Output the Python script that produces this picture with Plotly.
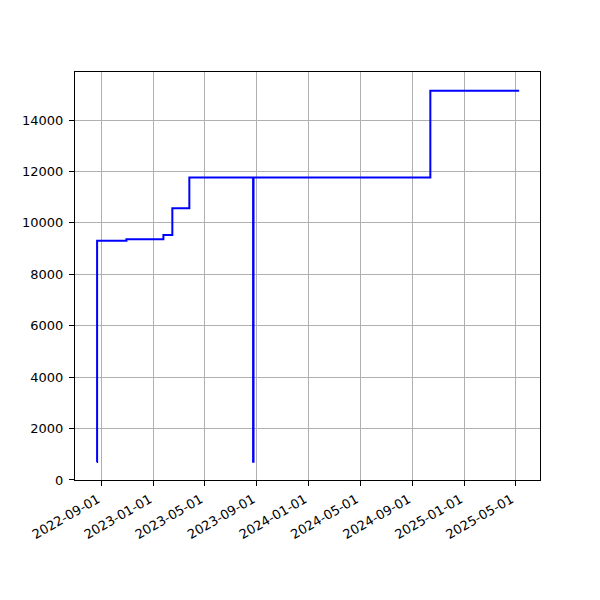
import plotly.graph_objects as go

dates = ["2022-08-20", "2022-08-21", "2022-10-29", "2023-01-24", "2023-02-14",
         "2023-03-26", "2023-08-23", "2023-08-24", "2024-10-13", "2025-05-10"]
values = [700, 9300, 9360, 9530, 10570, 11760, 712, 11760, 15140, 15140]

tick_dates = ["2022-09-01", "2023-01-01", "2023-05-01", "2023-09-01", "2024-01-01",
              "2024-05-01", "2024-09-01", "2025-01-01", "2025-05-01"]
y_ticks = [0, 2000, 4000, 6000, 8000, 10000, 12000, 14000]

fig = go.Figure()
fig.add_trace(go.Scatter(x=dates, y=values, mode="lines", line_shape="hv",
                         line=dict(color="blue", width=2), showlegend=False))

font = dict(family="DejaVu Sans", size=13, color="black")
fig.update_layout(
    width=600, height=600,
    margin=dict(l=67, r=68, t=64, b=128),
    plot_bgcolor="white", paper_bgcolor="white",
    font=font,
)
fig.update_xaxes(
    type="date", range=["2022-06-30", "2025-06-28"],
    tickvals=tick_dates, ticktext=tick_dates, tickangle=-30,
    ticklabelshift=-4, ticklabelstandoff=1,
    showgrid=True, gridcolor="#b0b0b0", gridwidth=1,
    showline=True, linecolor="black", linewidth=1, mirror=True,
    ticks="outside", ticklen=5, tickcolor="black", zeroline=False,
)
fig.update_yaxes(
    range=[-2, 15868], tickvals=y_ticks, tickformat="d",
    ticklabelstandoff=3,
    showgrid=True, gridcolor="#b0b0b0", gridwidth=1,
    showline=True, linecolor="black", linewidth=1, mirror=True,
    ticks="outside", ticklen=5, tickcolor="black", zeroline=False,
)
fig.write_html("out.html")
